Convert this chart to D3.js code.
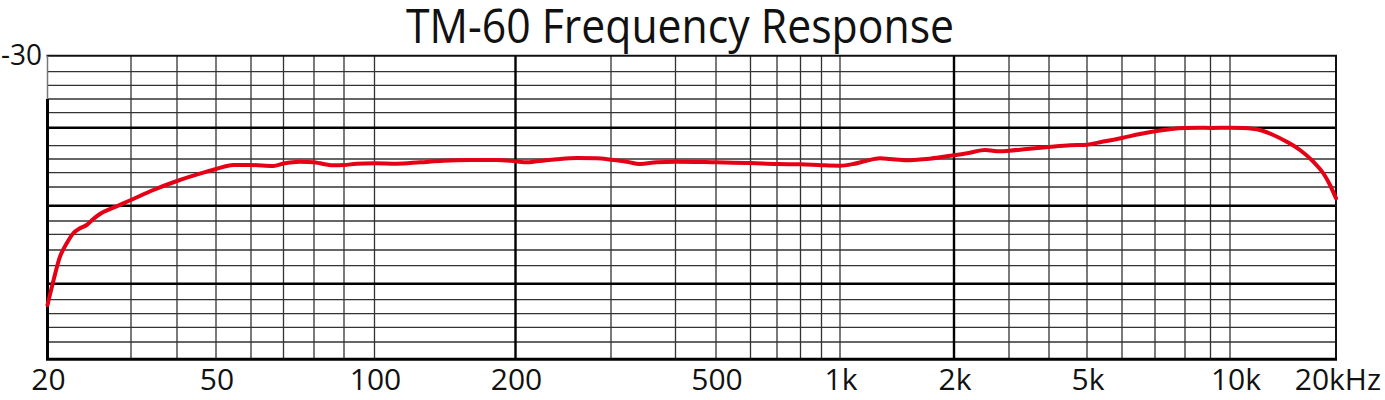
<!DOCTYPE html>
<html>
<head>
<meta charset="utf-8">
<script src="https://cdn.jsdelivr.net/npm/d3@7"></script>
<style>
  html, body { margin: 0; padding: 0; background: #fff; }
  svg { display: block; }
  text { font-family: "Open Sans", "Noto Sans", sans-serif; fill: #111; }
</style>
</head>
<body>
<svg id="chart" width="1385" height="400"></svg>
<script>
// ---------------- DATA ----------------
const chartTitle = "TM-60 Frequency Response";

// Frequency (Hz) of each point of the response curve
const freqHz = [20, 20.6, 21.25, 21.96, 22.67, 23.42, 24.19, 24.98, 25.8, 27.53,
  30, 34.5, 40, 47.4, 50, 54.7, 60, 66.7, 70, 75.2,
  80, 81.9, 86.3, 90, 94, 100, 111.5, 125.1, 140.2, 159.9,
  182.3, 200, 209.7, 218.8, 238.2, 259.4, 282.3, 300, 321.8, 341.4,
  367.8, 400, 500, 600, 700, 800, 900, 1000, 1084, 1176,
  1275, 1355, 1500, 1659, 1837, 2000, 2250, 2514, 2807, 3000,
  3407, 4000, 4525, 5000, 5350, 6000, 6526, 7000, 8000, 8574,
  9000, 10000, 10909, 12167, 13273, 14488, 15805, 17241, 18406, 19230, 20000];

// Level (dB) at each of those frequencies
const levelDb = [-62.76, -59.59, -56.85, -55.15, -53.85, -53.10, -52.60, -51.74, -51.08, -50.26,
  -49.39, -48.32, -47.16, -45.85, -45.46, -44.88, -44.88, -45.02, -44.66, -44.39,
  -44.46, -44.63, -44.92, -44.88, -44.69, -44.63, -44.69, -44.48, -44.25, -44.15,
  -44.15, -44.34, -44.48, -44.34, -44.04, -43.85, -43.89, -44.10, -44.39, -44.73,
  -44.48, -44.39, -44.48, -44.58, -44.73, -44.77, -44.91, -44.98, -44.73, -44.25,
  -43.89, -44.00, -44.19, -44.04, -43.74, -43.44, -43.05, -42.65, -42.84, -42.75,
  -42.50, -42.20, -41.96, -41.89, -41.61, -41.14, -40.70, -40.40, -40.03, -40.00,
  -40.03, -40.00, -40.03, -40.26, -40.81, -41.56, -42.65, -44.39, -46.08, -47.72, -49.21];

// Vertical grid frequencies (chart's own, irregular grid)
const xGridHz = [20, 30, 40, 50, 60, 70, 80, 90, 100, 200, 300, 400, 500, 600, 700, 800, 900,
  1000, 2000, 3000, 4000, 5000, 6000, 7000, 8000, 9000, 10000, 20000];
const xMajorHz = [200, 2000];
const xTickHz = [20, 50, 100, 200, 500, 1000, 2000, 5000, 10000, 20000];
const xTickLabels = ["20", "50", "100", "200", "500", "1k", "2k", "5k", "10k", "20kHz"];

// Horizontal grid levels (dB)
const yGridDb = d3.range(-30, -70.1, -2);
const yMajorDb = [-40, -50, -60];
const yTickDb = [-30];
const yTickLabels = ["-30"];

// ---------------- LAYOUT (scale ranges of the printed grid) ----------------
const xGridPx = [47.5, 131, 177, 216, 251, 283.5, 314, 344, 374.5, 515.5, 611, 675.5, 716, 750.5, 777, 800.5, 821.5,
  840, 954, 1009, 1049, 1087, 1122, 1155, 1185, 1210.5, 1230, 1336];
const yGridPx = [55.7, 71.7, 85.3, 99, 112.7, 127.7, 145.7, 159, 172.7, 187, 205.7,
  221, 234.3, 250, 265.7, 283.7, 299.7, 313.7, 327.3, 342, 359.3];

const x = d3.scaleLog().domain(xGridHz).range(xGridPx);
const y = d3.scaleLinear().domain(yGridDb).range(yGridPx);

const svg = d3.select("#chart");
const pLeft = x(20), pRight = x(20000), pTop = y(-30), pBottom = y(-70);

// Title
svg.append("text")
  .attr("x", 680).attr("y", 42.5)
  .attr("text-anchor", "middle")
  .attr("font-size", 48)
  .attr("textLength", 548)
  .attr("lengthAdjust", "spacingAndGlyphs")
  .text(chartTitle);

const grid = svg.append("g");

// minor horizontal lines
grid.selectAll("line.hmin")
  .data(yGridDb.filter(d => d !== -30 && d !== -70 && !yMajorDb.includes(d)))
  .join("line")
  .attr("x1", pLeft).attr("x2", pRight)
  .attr("y1", d => y(d)).attr("y2", d => y(d))
  .attr("stroke", "#333").attr("stroke-width", 1.3);

// minor vertical lines
grid.selectAll("line.vmin")
  .data(xGridHz.filter(d => d !== 20 && d !== 20000 && !xMajorHz.includes(d)))
  .join("line")
  .attr("x1", d => x(d)).attr("x2", d => x(d))
  .attr("y1", pTop).attr("y2", pBottom)
  .attr("stroke", "#333").attr("stroke-width", 1.3);

// major horizontal lines
grid.selectAll("line.hmaj")
  .data(yMajorDb)
  .join("line")
  .attr("x1", pLeft).attr("x2", pRight)
  .attr("y1", d => y(d)).attr("y2", d => y(d))
  .attr("stroke", "#000").attr("stroke-width", 2.4);

// major vertical lines
grid.selectAll("line.vmaj")
  .data(xMajorHz)
  .join("line")
  .attr("x1", d => x(d)).attr("x2", d => x(d))
  .attr("y1", pTop).attr("y2", pBottom)
  .attr("stroke", "#000").attr("stroke-width", 2.4);

// frame
grid.append("line").attr("x1", pLeft - 1).attr("x2", pRight + 1).attr("y1", pTop).attr("y2", pTop)
  .attr("stroke", "#111").attr("stroke-width", 2);
grid.append("line").attr("x1", pRight).attr("x2", pRight).attr("y1", pTop).attr("y2", pBottom)
  .attr("stroke", "#111").attr("stroke-width", 2);
grid.append("line").attr("x1", pLeft - 1.5).attr("x2", pRight + 1).attr("y1", pBottom).attr("y2", pBottom)
  .attr("stroke", "#000").attr("stroke-width", 3);
grid.append("line").attr("x1", pLeft).attr("x2", pLeft).attr("y1", pTop).attr("y2", y(-36))
  .attr("stroke", "#777").attr("stroke-width", 1.5);
grid.append("line").attr("x1", pLeft).attr("x2", pLeft).attr("y1", y(-36)).attr("y2", pBottom)
  .attr("stroke", "#000").attr("stroke-width", 3);

// response curve
const pts = freqHz.map((f, i) => [f, levelDb[i]]);
svg.append("path")
  .datum(pts)
  .attr("fill", "none")
  .attr("stroke", "#e60016")
  .attr("stroke-width", 4)
  .attr("stroke-linejoin", "round")
  .attr("stroke-linecap", "round")
  .attr("d", d3.line().x(d => x(d[0])).y(d => y(d[1])).curve(d3.curveMonotoneX));

// x tick labels
svg.selectAll("text.xt")
  .data(xTickHz)
  .join("text")
  .attr("class", "xt")
  .attr("x", (d, i) => i === xTickHz.length - 1 ? x(d) + 45 : x(d) + (d === 10000 ? 6 : 1))
  .attr("y", 390)
  .attr("font-size", 30)
  .attr("text-anchor", (d, i) => i === xTickHz.length - 1 ? "end" : "middle")
  .text((d, i) => xTickLabels[i]);

// y tick label
svg.selectAll("text.yt")
  .data(yTickDb)
  .join("text")
  .attr("class", "yt")
  .attr("x", 1)
  .attr("y", d => y(d) + 9.5)
  .attr("font-size", 29)
  .attr("textLength", 41)
  .attr("lengthAdjust", "spacingAndGlyphs")
  .text((d, i) => yTickLabels[i]);
</script>
</body>
</html>
